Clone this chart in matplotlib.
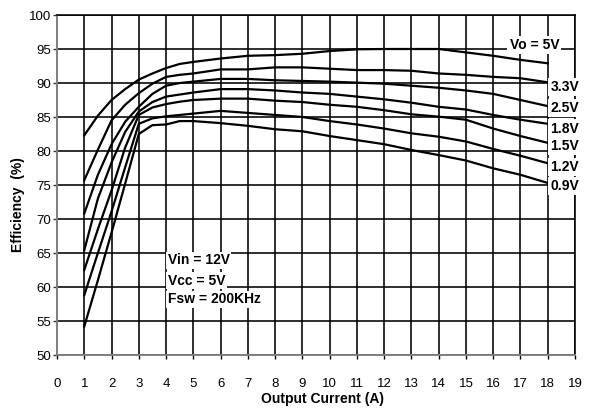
import matplotlib
matplotlib.use("Agg")
import matplotlib.pyplot as plt

plt.rcParams['font.family'] = ['Liberation Sans', 'DejaVu Sans']

# ---- data ----
current = [1, 1.5, 2, 2.5, 3, 3.5, 4, 4.5, 5, 6, 7, 8, 9, 10, 11, 12, 13, 14, 15, 16, 17, 18]

eff_5v0 = [82.3, 85.2, 87.5, 89.1, 90.5, 91.4, 92.2, 92.8, 93.1, 93.6, 94.0, 94.1, 94.3, 94.7,
           94.95, 95.0, 95.0, 95.0, 94.5, 94.0, 93.4, 92.9]
eff_3v3 = [75.7, 80.2, 84.5, 86.8, 88.5, 89.9, 90.9, 91.2, 91.4, 92.0, 92.0, 92.3, 92.3, 92.1,
           91.9, 91.9, 91.8, 91.4, 91.2, 90.9, 90.7, 90.1]
eff_2v5 = [70.8, 76.5, 81.0, 84.3, 86.5, 88.4, 89.6, 90.0, 90.2, 90.6, 90.6, 90.4, 90.3, 90.2,
           90.05, 89.9, 89.6, 89.3, 88.9, 88.4, 87.5, 86.6]
eff_1v8 = [65.4, 73.0, 78.3, 82.8, 85.8, 87.2, 88.0, 88.3, 88.6, 89.1, 89.1, 88.9, 88.6, 88.4,
           88.0, 87.6, 87.1, 86.5, 86.1, 85.3, 84.6, 84.0]
eff_1v5 = [62.5, 68.5, 74.2, 80.5, 85.3, 86.4, 86.9, 87.25, 87.5, 87.7, 87.7, 87.4, 87.2, 86.8,
           86.5, 86.0, 85.4, 85.05, 84.6, 83.3, 82.2, 81.2]
eff_1v2 = [58.8, 65.0, 71.1, 77.6, 84.0, 84.8, 85.1, 85.3, 85.5, 85.9, 85.6, 85.3, 85.0, 84.4,
           83.9, 83.3, 82.6, 82.1, 81.4, 80.3, 79.3, 78.2]
eff_0v9 = [54.2, 61.0, 68.0, 75.2, 82.5, 83.8, 83.9, 84.4, 84.4, 84.1, 83.7, 83.2, 82.9, 82.2,
           81.6, 81.0, 80.15, 79.4, 78.6, 77.45, 76.5, 75.3]

series = [eff_5v0, eff_3v3, eff_2v5, eff_1v8, eff_1v5, eff_1v2, eff_0v9]
series_labels = ["Vo = 5V", "3.3V", "2.5V", "1.8V", "1.5V", "1.2V", "0.9V"]
label_x = [16.6, 18.1, 18.1, 18.1, 18.1, 18.1, 18.1]
label_y = [95.6, 89.4, 86.3, 83.3, 80.7, 77.7, 74.9]

x_ticks = list(range(0, 20))
y_ticks = list(range(50, 101, 5))

cond_lines = ["Vin = 12V", "Vcc = 5V", "Fsw = 200KHz"]
cond_y = [63.9, 60.9, 58.2]

# ---- figure ----
fig = plt.figure(figsize=(5.92, 4.11), dpi=100)
ax = fig.add_axes([57 / 592, 1 - 355 / 411, 518 / 592, 340 / 411])

ax.set_xlim(0, 19)
ax.set_ylim(50, 100)
ax.set_xticks(x_ticks)
ax.set_yticks(y_ticks)
ax.grid(True, color='black', linewidth=1.15, zorder=1)
ax.set_axisbelow(True)

for vals in series:
    ax.plot(current, vals, color='black', linewidth=1.6, zorder=3, solid_joinstyle='round')

for sp in ['left', 'bottom']:
    ax.spines[sp].set_color('#808080')
    ax.spines[sp].set_linewidth(1.4)
for sp in ['top', 'right']:
    ax.spines[sp].set_color('black')
    ax.spines[sp].set_linewidth(1.15)

ax.tick_params(axis='x', direction='out', length=3, width=1.0, color='black',
               pad=13.5, labelsize=9.5)
ax.tick_params(axis='y', direction='out', length=3, width=1.0, color='#333333',
               pad=1.5, labelsize=9.5)

for txt, lx, ly in zip(series_labels, label_x, label_y):
    ax.text(lx, ly, txt, ha='left', va='center', fontsize=10, fontweight='bold',
            color='black', zorder=6, clip_on=False,
            bbox=dict(facecolor='white', edgecolor='none', pad=1.5))

for txt, cy in zip(cond_lines, cond_y):
    ax.text(4.06, cy, txt, ha='left', va='center', fontsize=10, fontweight='bold',
            color='black', zorder=6,
            bbox=dict(facecolor='white', edgecolor='none', pad=1.0))

ax.set_xlabel("Output Current (A)", fontsize=10, fontweight='bold')
ax.xaxis.set_label_coords(0.5116, -0.109)
ax.set_ylabel("Efficiency  (%)", fontsize=10, fontweight='bold')
ax.yaxis.set_label_coords(-0.062, 0.441)

fig.savefig("out.png", dpi=100)
